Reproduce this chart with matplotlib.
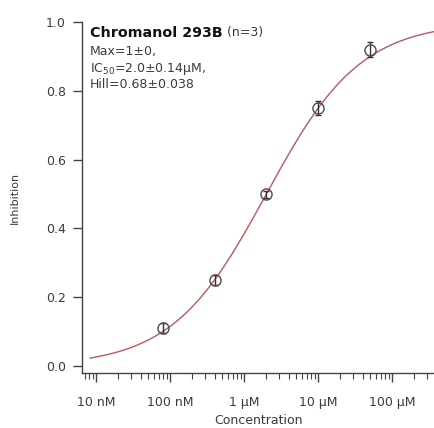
import numpy as np
import matplotlib
matplotlib.use("Agg")
import matplotlib.pyplot as plt
from matplotlib.ticker import FixedLocator, LogLocator, NullFormatter

plt.rcParams['font.family'] = ['DejaVu Sans']
plt.rcParams['mathtext.fontset'] = 'dejavusans'

# concentrations (M), mean inhibition and error
conc = [8e-8, 4e-7, 2e-6, 1e-5, 5e-5]
inhib = [0.11, 0.25, 0.50, 0.75, 0.92]
err = [0.015, 0.015, 0.01, 0.02, 0.022]

# Hill fit parameters
top = 1.0
ic50 = 2.0e-6
hill = 0.68

tick_pos = [1e-8, 1e-7, 1e-6, 1e-5, 1e-4]
tick_lab = ['10 nM', '100 nM', '1 µM', '10 µM', '100 µM']

txt = '#3a3a3a'
fig = plt.figure(figsize=(4.35, 4.28), dpi=100)
ax = fig.add_axes([82/435, 55/428, 353/435, 351/428])

xfit = np.logspace(-8.08, -3.3, 300)
yfit = top / (1 + (ic50 / xfit) ** hill)
ax.plot(xfit, yfit, color='#b85a5c', lw=1.0, zorder=2)

ax.errorbar(conc, inhib, yerr=err, fmt='o', ms=8, mfc='none', mec='#4a4a4a',
            mew=1.0, ecolor='#333333', elinewidth=1.0, capsize=2.5, capthick=1.0, zorder=3)

ax.set_xscale('log')
ax.set_xlim(10**-8.19, 10**-3.42)
ax.set_ylim(-0.02, 1.0)

ax.xaxis.set_major_locator(FixedLocator(tick_pos))
ax.set_xticklabels(tick_lab)
ax.xaxis.set_minor_locator(LogLocator(base=10, subs=np.arange(2, 10)))
ax.xaxis.set_minor_formatter(NullFormatter())
ax.set_yticks([0.0, 0.2, 0.4, 0.6, 0.8, 1.0])
ax.set_yticklabels(['0.0', '0.2', '0.4', '0.6', '0.8', '1.0'])

for s in ['top', 'right']:
    ax.spines[s].set_visible(False)
for s in ['left', 'bottom']:
    ax.spines[s].set_color('#444444')
    ax.spines[s].set_linewidth(1.0)

ax.tick_params(axis='both', which='major', direction='out', length=6.5, width=1.0,
               color='#444444', labelsize=9, labelcolor=txt)
ax.tick_params(axis='y', which='major', pad=5)
ax.tick_params(axis='x', which='major', pad=10)
ax.tick_params(axis='x', which='minor', direction='out', length=4, width=0.8, color='#444444')

ax.set_xlabel('Concentration', fontsize=9, color=txt, labelpad=4)
ax.set_ylabel('Inhibition', fontsize=8, color=txt, labelpad=19)

# fit summary
tx = 0.023
t1 = ax.text(tx, 0.969, 'Chromanol 293B', transform=ax.transAxes, fontsize=10.3,
             fontweight='bold', va='center', ha='left', color='#111111')
fig.canvas.draw()
bb = t1.get_window_extent()
x1 = ax.transAxes.inverted().transform((bb.x1, bb.y1))[0]
ax.text(x1, 0.969, ' (n=3)', transform=ax.transAxes, fontsize=9, va='center', ha='left', color=txt)
ax.text(tx, 0.915, 'Max=1±0,', transform=ax.transAxes, fontsize=9, va='center', ha='left', color=txt)
ax.text(tx, 0.866, 'IC$_{50}$=2.0±0.14µM,', transform=ax.transAxes, fontsize=9, va='center',
        ha='left', color=txt)
ax.text(tx, 0.823, 'Hill=0.68±0.038', transform=ax.transAxes, fontsize=9, va='center', ha='left', color=txt)

fig.savefig('out.png', dpi=100)
